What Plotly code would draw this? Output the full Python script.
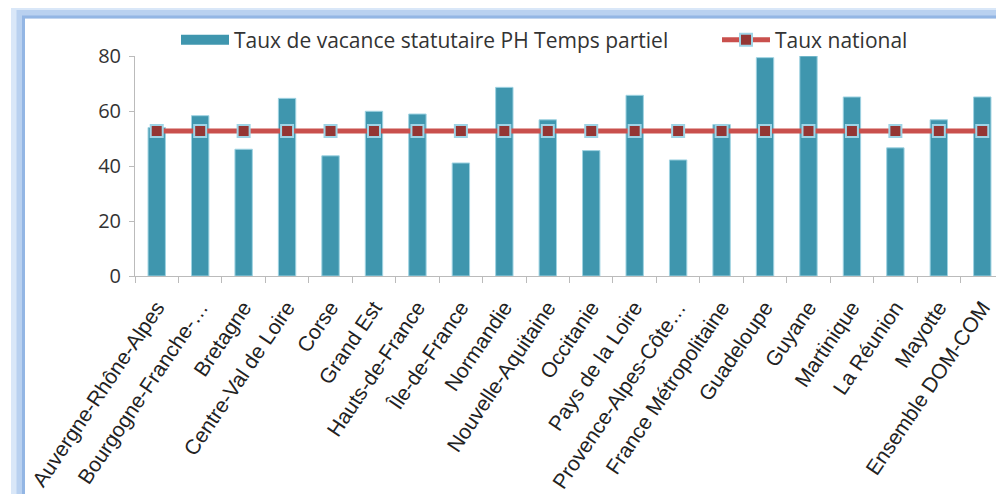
import plotly.graph_objects as go

categories = [
    "Auvergne-Rhône-Alpes", "Bourgogne-Franche-…", "Bretagne", "Centre-Val de Loire",
    "Corse", "Grand Est", "Hauts-de-France", "Île-de-France", "Normandie",
    "Nouvelle-Aquitaine", "Occitanie", "Pays de la Loire", "Provence-Alpes-Côte…",
    "France Métropolitaine", "Guadeloupe", "Guyane", "Martinique", "La Réunion",
    "Mayotte", "Ensemble DOM-COM",
]
vacance_tp = [54.0, 58.3, 46.1, 64.6, 43.7, 59.9, 58.9, 41.1, 68.6, 56.8,
              45.6, 65.7, 42.2, 55.1, 79.4, 80.0, 65.1, 46.6, 56.8, 65.1]
taux_national = [52.7, 52.7, 52.7, 52.7, 52.7, 52.7, 52.7, 52.7, 52.7, 52.7,
                 52.7, 52.7, 52.7, 52.7, 52.7, 52.7, 52.7, 52.7, 52.7, 52.7]
y_ticks = [0, 20, 40, 60, 80]

BAR_COLOR = "#3F96AE"
name_bar = "Taux de vacance statutaire PH Temps partiel"

# page has an 8px body margin: figure coords = page coords - 8
OFF = 8
W, H = 1004 - OFF, 494 - OFF
L = 135 - OFF
T = 56 - OFF
B = H - (276 - OFF)
pw, ph = W - L, H - T - B

def px_x(p):
    return (p - OFF - L) / pw

def px_y(p):
    return (H - B - (p - OFF)) / ph

fig = go.Figure()
fig.add_trace(go.Bar(
    x=categories, y=vacance_tp, name=name_bar, showlegend=False,
    marker=dict(color=BAR_COLOR, line=dict(color="#9FD3E2", width=1)),
    width=0.4,
))
# legend entry for the bars (wide rectangle swatch)
fig.add_trace(go.Scatter(
    x=[None], y=[None], name=name_bar, mode="lines",
    line=dict(color=BAR_COLOR, width=13), legendwidth=478,
))
fig.add_trace(go.Scatter(
    x=categories, y=taux_national, name="Taux national", mode="lines+markers",
    line=dict(color="#C9504D", width=5),
    marker=dict(symbol="square", size=12, color="#943634",
                line=dict(color="#9ED4E6", width=2)),
))

frame = [  # (left centre px, top centre px, stroke width, colour)
    (18, 11.5, 14, "#D9E7F8"),
    (20.5, 14, 8, "#B9D1F0"),
    (23.5, 17, 3, "#93B6E4"),
]
shapes = [
    dict(type="rect", xref="paper", yref="paper", x0=px_x(xl), x1=px_x(1040),
         y0=px_y(540), y1=px_y(yt), line=dict(color=c, width=w))
    for xl, yt, w, c in frame
]

fig.update_layout(
    width=W, height=H,
    margin=dict(l=L, r=0, t=T, b=B, autoexpand=False),
    paper_bgcolor="white", plot_bgcolor="white",
    font=dict(family="Liberation Sans, Arial", color="#222"),
    shapes=shapes,
    showlegend=True,
    legend=dict(orientation="h", xref="container", yref="container",
                x=(176 - OFF) / W, xanchor="left", y=1 - (40 - OFF) / H, yanchor="middle",
                font=dict(family="Open Sans", size=21, color="#333"),
                bgcolor="rgba(0,0,0,0)", itemwidth=48, tracegroupgap=0),
    bargap=0.6,
    xaxis=dict(
        type="category", tickangle=-56, tickson="boundaries", automargin=False,
        ticks="outside", ticklen=6, tickcolor="#BBBBBB", ticklabelstandoff=10,
        showline=True, linecolor="#BBBBBB", linewidth=1,
        tickfont=dict(family="Liberation Sans, Arial", size=21, color="#222"),
        showgrid=False, range=[-0.5, 19.5],
    ),
    yaxis=dict(
        range=[0, 80], tickvals=y_ticks, ticks="outside", ticklen=5, automargin=False,
        tickcolor="#BBBBBB", showline=True, linecolor="#BBBBBB", linewidth=1,
        showgrid=False, zeroline=False, ticklabelstandoff=4,
        tickfont=dict(family="Open Sans", size=20, color="#333"),
    ),
)

fig.write_html("out.html")
